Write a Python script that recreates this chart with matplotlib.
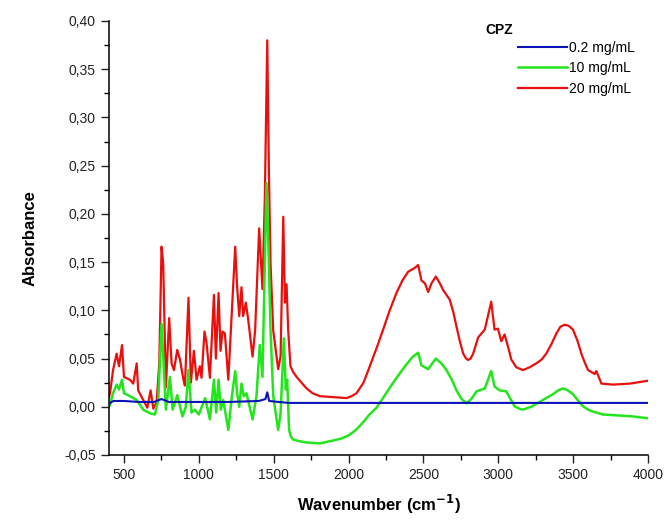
import matplotlib
matplotlib.use("Agg")
import matplotlib.pyplot as plt
from matplotlib.ticker import MultipleLocator, FuncFormatter

plt.rcParams["font.family"] = ["Liberation Sans", "DejaVu Sans"]

# spectra (wavenumber cm-1, absorbance)
wn_red = [400, 407, 427, 451, 467, 487, 500, 540, 562, 585, 595, 629, 656, 678, 696, 718,
          736, 751, 762, 780, 802, 818, 834, 856, 874, 896, 907, 931, 947, 967, 985, 1007,
          1018, 1038, 1051, 1074, 1101, 1114, 1132, 1145, 1158, 1174, 1197, 1219, 1243,
          1256, 1270, 1285, 1296, 1314, 1330, 1359, 1376, 1403, 1425, 1441, 1457, 1468,
          1479, 1497, 1530, 1546, 1564, 1575, 1586, 1597, 1612, 1630, 1653, 1680, 1720,
          1760, 1808, 1900, 1987, 2020, 2053, 2100, 2142, 2190, 2231, 2275, 2320, 2360,
          2398, 2442, 2465, 2487, 2510, 2532, 2554, 2583, 2610, 2632, 2676, 2700, 2721,
          2745, 2766, 2785, 2799, 2815, 2832, 2866, 2910, 2953, 2975, 2998, 3020, 3042,
          3064, 3087, 3120, 3165, 3210, 3254, 3290, 3320, 3355, 3388, 3415, 3443, 3470,
          3499, 3530, 3555, 3580, 3600, 3644, 3655, 3689, 3767, 3878, 4000]
abs_red = [0.010, 0.014, 0.038, 0.055, 0.042, 0.064, 0.031, 0.028, 0.024, 0.045, 0.017,
           0.007, -0.001, 0.017, -0.002, 0.005, 0.045, 0.166, 0.149, 0.020, 0.092, 0.045,
           0.038, 0.059, 0.049, 0.029, 0.022, 0.113, 0.025, 0.058, 0.028, 0.042, 0.030,
           0.078, 0.067, 0.030, 0.116, 0.050, 0.118, 0.058, 0.078, 0.076, 0.028, 0.094,
           0.166, 0.124, 0.094, 0.124, 0.094, 0.108, 0.090, 0.052, 0.079, 0.185, 0.122,
           0.218, 0.380, 0.245, 0.149, 0.079, 0.039, 0.052, 0.197, 0.108, 0.127, 0.079,
           0.042, 0.036, 0.031, 0.026, 0.019, 0.014, 0.011, 0.010, 0.009, 0.011, 0.014,
           0.025, 0.042, 0.062, 0.080, 0.100, 0.118, 0.131, 0.140, 0.144, 0.147, 0.131,
           0.128, 0.119, 0.128, 0.135, 0.128, 0.121, 0.111, 0.098, 0.083, 0.067, 0.055,
           0.050, 0.0485, 0.050, 0.055, 0.072, 0.080, 0.109, 0.080, 0.081, 0.068, 0.075,
           0.063, 0.049, 0.041, 0.038, 0.041, 0.045, 0.049, 0.055, 0.065, 0.076, 0.083,
           0.085, 0.084, 0.080, 0.068, 0.055, 0.045, 0.038, 0.034, 0.037, 0.024, 0.023,
           0.024, 0.027]

wn_green = [400, 407, 427, 451, 467, 487, 500, 540, 585, 629, 678, 707, 729, 751, 767, 780,
            807, 825, 856, 891, 913, 931, 951, 973, 1000, 1042, 1074, 1101, 1116, 1132,
            1147, 1163, 1197, 1221, 1243, 1256, 1270, 1285, 1300, 1318, 1359, 1385, 1407,
            1425, 1452, 1463, 1479, 1497, 1530, 1546, 1568, 1581, 1590, 1603, 1615, 1630,
            1680, 1720, 1808, 1897, 1950, 1997, 2050, 2098, 2140, 2187, 2230, 2276, 2330,
            2387, 2430, 2465, 2487, 2532, 2583, 2620, 2654, 2690, 2721, 2755, 2788, 2820,
            2855, 2910, 2953, 2975, 3009, 3053, 3109, 3140, 3165, 3220, 3276, 3320, 3365,
            3400, 3432, 3465, 3499, 3535, 3566, 3600, 3632, 3699, 3800, 3900, 4000]
abs_green = [0.000, 0.002, 0.014, 0.023, 0.018, 0.028, 0.014, 0.011, 0.007, -0.003, -0.007,
             -0.008, 0.007, 0.086, 0.038, -0.003, 0.031, -0.003, 0.012, -0.010, 0.000,
             0.038, -0.006, -0.003, -0.008, 0.009, -0.013, 0.028, -0.006, 0.028, -0.003,
             0.007, -0.024, 0.011, 0.037, 0.014, 0.000, 0.024, 0.011, 0.014, -0.013, 0.011,
             0.064, 0.031, 0.232, 0.180, 0.079, 0.011, -0.024, -0.007, 0.071, 0.018, 0.028,
             -0.024, -0.031, -0.034, -0.036, -0.037, -0.038, -0.035, -0.033, -0.030,
             -0.024, -0.016, -0.008, -0.001, 0.009, 0.020, 0.032, 0.044, 0.052, 0.056,
             0.043, 0.039, 0.050, 0.045, 0.038, 0.028, 0.017, 0.008, 0.0036, 0.008, 0.016,
             0.019, 0.037, 0.021, 0.017, 0.016, 0.0005, -0.002, -0.003, 0.000, 0.005,
             0.009, 0.013, 0.017, 0.019, 0.017, 0.013, 0.006, 0.0005, -0.003, -0.005,
             -0.008, -0.009, -0.010, -0.012]

wn_blue = [400, 407, 430, 500, 600, 700, 751, 800, 1000, 1200, 1400, 1445, 1457, 1470, 1600,
           2000, 2500, 3000, 3500, 4000]
abs_blue = [0.002, 0.004, 0.006, 0.006, 0.005, 0.005, 0.008, 0.005, 0.005, 0.005, 0.006,
            0.008, 0.015, 0.006, 0.004, 0.004, 0.004, 0.004, 0.004, 0.004]

labels = ["0.2 mg/mL", "10 mg/mL", "20 mg/mL"]

fig = plt.figure(figsize=(6.67, 5.21), dpi=100)
ax = fig.add_axes([0.1634, 0.1267, 0.8081, 0.833])

ax.plot(wn_red, abs_red, color="#e8100c", linewidth=1.6, zorder=1, label=labels[2])
ax.plot(wn_green, abs_green, color="#22e51c", linewidth=1.8, zorder=2, label=labels[1])
ax.plot(wn_blue, abs_blue, color="#0a12b8", linewidth=1.5, zorder=3, label=labels[0])

ax.set_xlim(400, 4000)
ax.set_ylim(-0.05, 0.40)
ax.xaxis.set_major_locator(MultipleLocator(500))
ax.xaxis.set_minor_locator(MultipleLocator(250))
ax.yaxis.set_major_locator(MultipleLocator(0.05))
ax.yaxis.set_minor_locator(MultipleLocator(0.025))
ax.yaxis.set_major_formatter(FuncFormatter(lambda v, p: ("%.2f" % v).replace(".", ",")))
ax.xaxis.set_major_formatter(FuncFormatter(lambda v, p: "%d" % v))
ax.tick_params(which="major", direction="out", length=6, width=1, labelsize=10, colors="#222")
ax.tick_params(which="minor", direction="out", length=3.5, width=1)
for side in ("top", "right"):
    ax.spines[side].set_visible(False)
for side in ("left", "bottom"):
    ax.spines[side].set_linewidth(1.1)

ax.set_xlabel("Wavenumber (cm$^{\\mathbf{-1}}$)", fontsize=12, fontweight="bold", labelpad=8)
ax.set_ylabel("Absorbance", fontsize=12, fontweight="bold", labelpad=19)

handles, labs = ax.get_legend_handles_labels()
order = [2, 1, 0]
ax.legend([handles[i] for i in order], [labs[i] for i in order], loc="upper left",
          bbox_to_anchor=(518 / 667, 1 - 41 / 521), bbox_transform=fig.transFigure,
          frameon=False, fontsize=10, handlelength=3.5, handletextpad=0.15,
          labelspacing=0.45, borderpad=0, borderaxespad=0)
fig.text(485 / 667, 1 - 30 / 521, "CPZ", fontsize=10, fontweight="bold", va="center")

fig.savefig("out.png", dpi=100)
